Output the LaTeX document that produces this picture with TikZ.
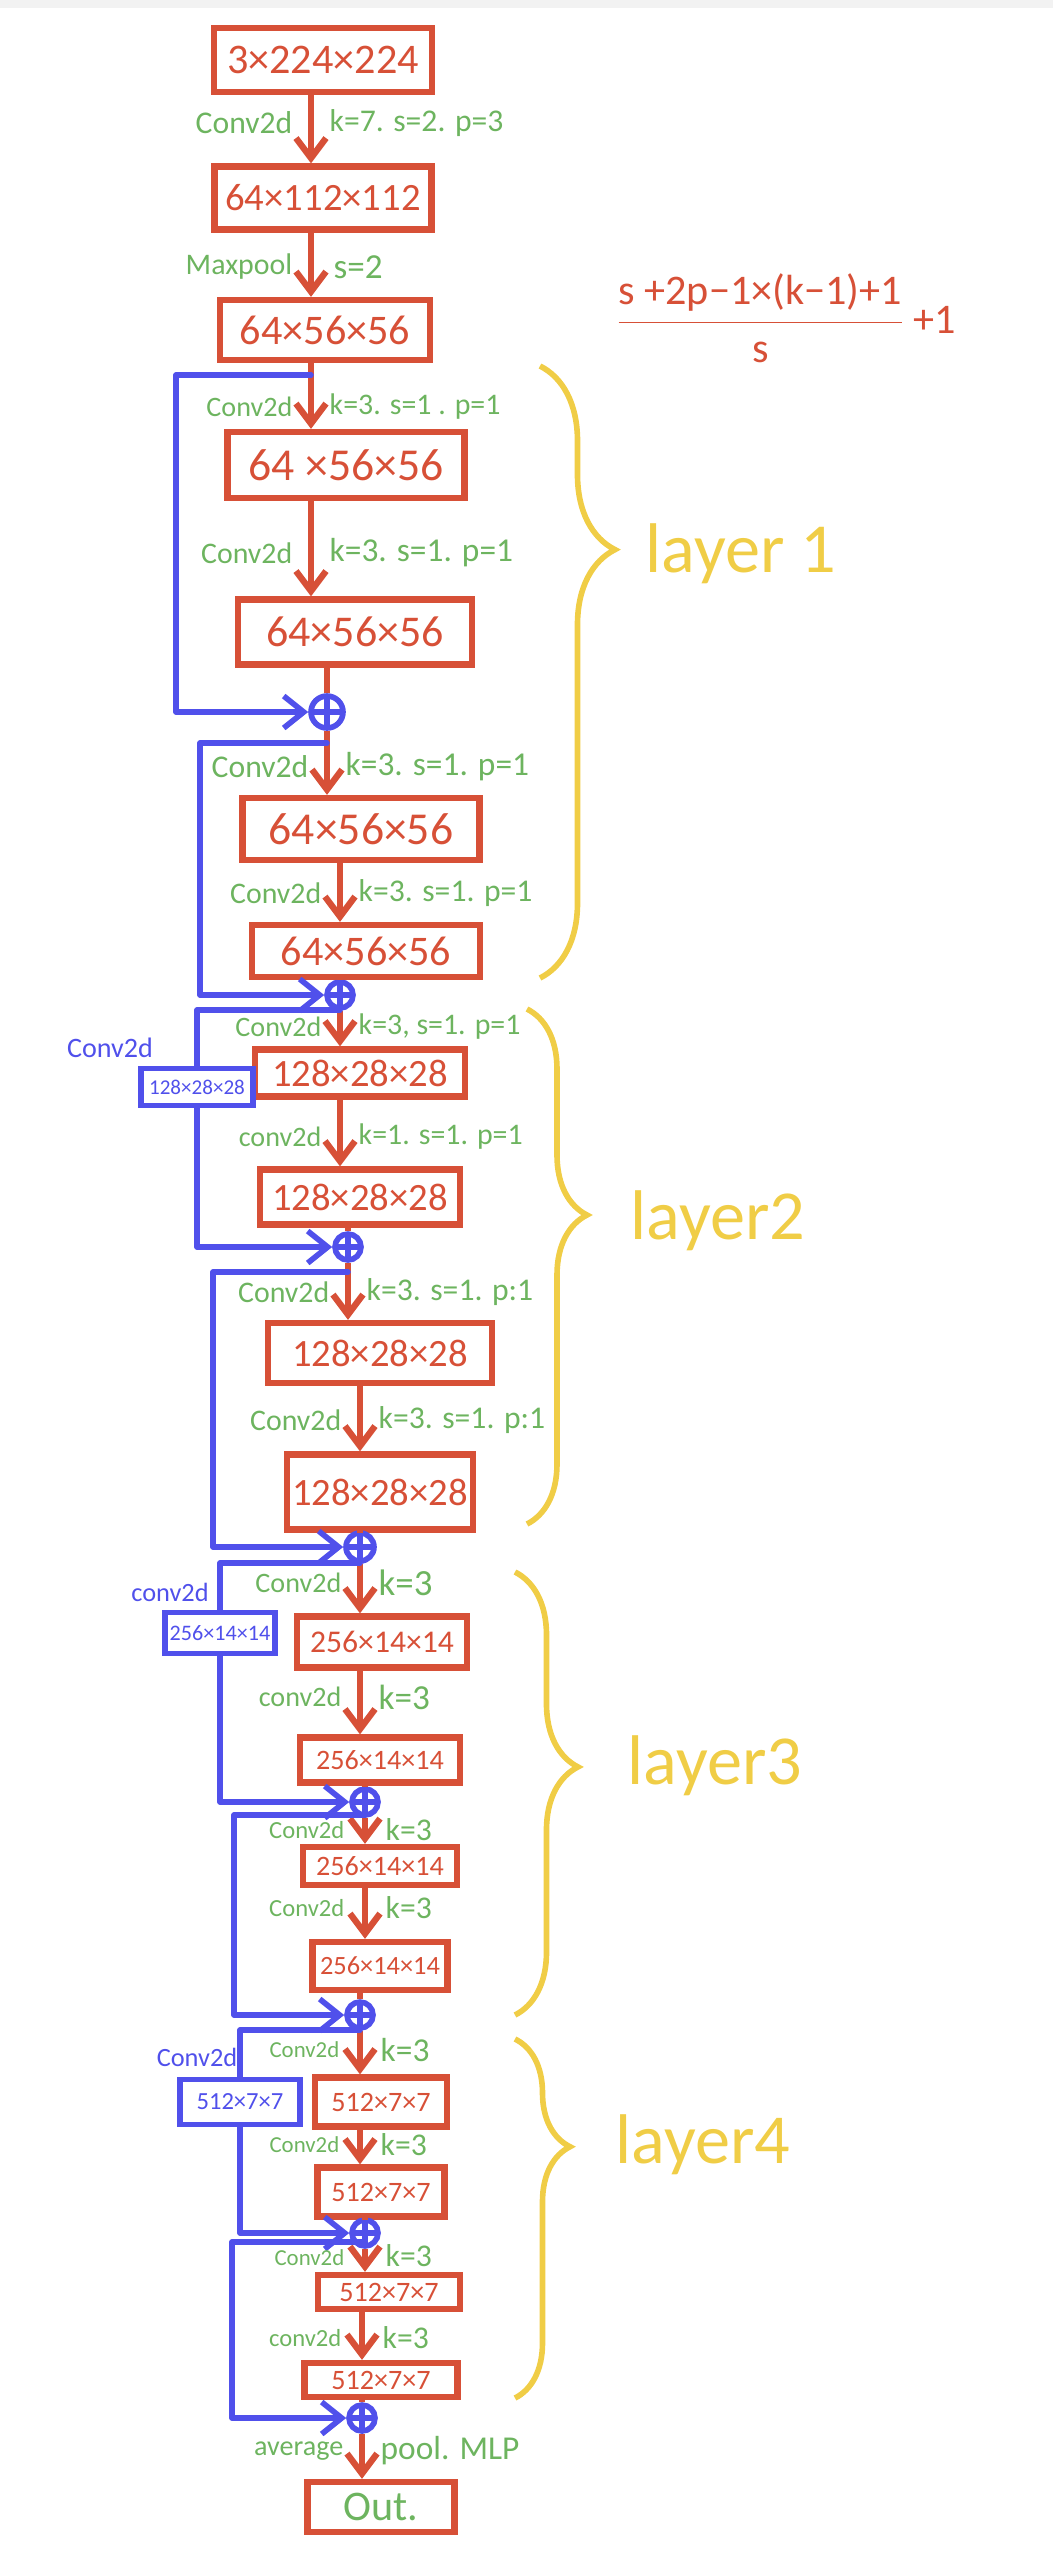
\documentclass[tikz,border=0pt]{standalone}
\usepackage{amsmath}
\usepackage{fontspec}
\setmainfont{Carlito}
\usetikzlibrary{arrows.meta,decorations.pathreplacing}
\definecolor{fmred}{HTML}{D75037}
\definecolor{lgreen}{HTML}{6DB45F}
\definecolor{skipblue}{HTML}{5050EB}
\definecolor{braceyel}{HTML}{F0CD46}
\tikzset{
  fmap/.style={draw=fmred, line width=1.8pt, text=fmred, inner sep=0pt, font=\fontsize{#1}{#1}\selectfont},
  skipmap/.style={draw=skipblue, line width=1.6pt, text=skipblue, inner sep=0pt, font=\fontsize{#1}{#1}\selectfont},
  skiplbl/.style={text=skipblue, inner sep=0pt, font=\fontsize{#1}{#1}\selectfont},
  lblL/.style={text=lgreen, anchor=east, inner sep=0pt, font=\fontsize{#1}{#1}\selectfont},
  lblR/.style={text=lgreen, anchor=west, inner sep=0pt, font=\fontsize{#1}{#1}\selectfont},
  flow/.style={draw=fmred, line width=1.8pt, -{Straight Barb[length=2mm,width=3mm]}},
  flowin/.style={draw=fmred, line width=1.8pt},
  shortcut/.style={draw=skipblue, line width=1.6pt, line join=round, line cap=round},
  shortin/.style={shortcut, -{Straight Barb[length=2mm,width=3.2mm]}},
  addop/.style={circle, draw=skipblue, line width=1.6pt, minimum size=#1, inner sep=0pt,
    path picture={\draw[skipblue, line width=1.6pt] (path picture bounding box.north) -- (path picture bounding box.south)
      (path picture bounding box.west) -- (path picture bounding box.east);}},
  layerbrace/.style 2 args={draw=braceyel, line width=1.6pt, decorate, decoration={brace, amplitude=#1, aspect=#2}},
  layername/.style={text=braceyel, anchor=west, inner sep=0pt, font=\fontsize{20}{20}\selectfont},
}
\begin{document}
\begin{tikzpicture}[x=0.1mm, y=-0.1mm]
\useasboundingbox (0,0) rectangle (1053,2569);
\fill[black!5] (0,0) rectangle (1053,8);

% stem
\node[fmap=12, minimum width=21.8mm, minimum height=6.4mm] (b1) at (323,60) {3×224×224};
\node[fmap=11, minimum width=21.7mm, minimum height=6.3mm] (b2) at (323,198) {64×112×112};
\node[fmap=12, minimum width=21mm, minimum height=6mm] (b3) at (325,330) {64×56×56};
\coordinate (s0) at (311,0);
\draw[flow] (b1.south -| s0) -- (b2.north -| s0);
\draw[flow] (b2.south -| s0) -- (b3.north -| s0);
\node[lblL=9] (l1a) at (293,123) {Conv2d};
\node[lblR=9] (l1b) at (329,123) {k=7. s=2. p=3};
\node[lblL=8.5] (l2a) at (293,267) {Maxpool};
\node[lblR=10] (l2b) at (333,267) {s=2};

% layer 1
\node[fmap=13, minimum width=23.7mm, minimum height=6.6mm] (b4) at (346,465) {64 ×56×56};
\node[fmap=12.5, minimum width=23.4mm, minimum height=6.5mm] (b5) at (355,632) {64×56×56};
\node[addop=3.2mm] (a1) at (327,712) {};
\node[fmap=13, minimum width=23.7mm, minimum height=6.2mm] (b6) at (361,829) {64×56×56};
\node[fmap=12, minimum width=22.8mm, minimum height=5.2mm] (b7) at (366,951) {64×56×56};
\node[addop=2.6mm] (a2) at (340,995) {};
\coordinate (r1) at (311,375);
\coordinate (r2) at (327,743);
\draw[flow] (b3.south -| s0) -- (b4.north -| s0);
\draw[flow] (b4.south -| s0) -- (b5.north -| s0);
\draw[flowin] (b5.south -| a1) -- (a1.north);
\draw[flow] (a1.south) -- (b6.north -| a1);
\draw[flow] (b6.south -| a2) -- (b7.north -| a2);
\draw[flowin] (b7.south -| a2) -- (a2.north);
\draw[shortin] (r1) -- ++(-135,0) |- (a1.west);
\draw[shortin] (r2) -- ++(-127,0) |- (a2.west);
\node[lblL=8] (l3a) at (293,407) {Conv2d};
\node[lblR=8.5] (l3b) at (329,407) {k=3. s=1 . p=1};
\node[lblL=8.5] (l4a) at (293,553) {Conv2d};
\node[lblR=9.5] (l4b) at (329,553) {k=3. s=1. p=1};
\node[lblL=9] (l5a) at (309,767) {Conv2d};
\node[lblR=9.5] (l5b) at (345,767) {k=3. s=1. p=1};
\node[lblL=8.5] (l6a) at (322,893) {Conv2d};
\node[lblR=9] (l6b) at (358,893) {k=3. s=1. p=1};

% layer 2
\node[fmap=11, minimum width=21mm, minimum height=4.7mm] (b8) at (360,1073) {128×28×28};
\node[fmap=11, minimum width=20mm, minimum height=5.5mm] (b9) at (360,1197) {128×28×28};
\node[addop=2.6mm] (a3) at (348,1247) {};
\node[fmap=11, minimum width=22.4mm, minimum height=6mm] (b10) at (380,1353) {128×28×28};
\node[fmap=11, minimum width=18.6mm, minimum height=7.5mm] (b11) at (380,1492) {128×28×28};
\node[addop=2.8mm] (a4) at (360,1547) {};
\node[skipmap=6, minimum width=11.2mm, minimum height=3.7mm] (c1) at (197,1087) {128×28×28};
\node[skiplbl=8] (k1) at (110,1048) {Conv2d};
\coordinate (r3) at (340,1010);
\coordinate (r4) at (348,1272);
\draw[flow] (a2.south) -- (b8.north -| a2);
\draw[flow] (b8.south -| a2) -- (b9.north -| a2);
\draw[flowin] (b9.south -| a3) -- (a3.north);
\draw[flow] (a3.south) -- (b10.north -| a3);
\draw[flow] (b10.south -| a4) -- (b11.north -| a4);
\draw[flowin] (b11.south -| a4) -- (a4.north);
\draw[shortcut] (r3) -| (c1.north);
\draw[shortin] (c1.south) |- (a3.west);
\draw[shortin] (r4) -- ++(-135,0) |- (a4.west);
\node[lblL=8] (l7a) at (322,1027) {Conv2d};
\node[lblR=8.5] (l7b) at (358,1027) {k=3, s=1. p=1};
\node[lblL=8] (l8a) at (322,1137) {conv2d};
\node[lblR=8.5] (l8b) at (358,1137) {k=1. s=1. p=1};
\node[lblL=8.5] (l9a) at (330,1292) {Conv2d};
\node[lblR=9] (l9b) at (366,1292) {k=3. s=1. p:1};
\node[lblL=8.5] (l10a) at (342,1420) {Conv2d};
\node[lblR=9] (l10b) at (378,1420) {k=3. s=1. p:1};

% layer 3
\node[fmap=9, minimum width=17mm, minimum height=5.1mm] (b12) at (382,1642) {256×14×14};
\node[fmap=8, minimum width=16mm, minimum height=4.5mm] (b13) at (380,1760) {256×14×14};
\node[addop=2.6mm] (a5) at (365,1802) {};
\node[fmap=8, minimum width=15.4mm, minimum height=3.8mm] (b14) at (380,1866) {256×14×14};
\node[fmap=7.5, minimum width=13.5mm, minimum height=4.8mm] (b15) at (380,1966) {256×14×14};
\node[addop=2.6mm] (a6) at (360,2015) {};
\node[skipmap=6.3, minimum width=11mm, minimum height=4.1mm] (c2) at (220,1633) {256×14×14};
\node[skiplbl=7.5] (k2) at (170,1592) {conv2d};
\coordinate (r5) at (360,1563);
\coordinate (r6) at (365,1815);
\draw[flow] (a4.south) -- (b12.north -| a4);
\draw[flow] (b12.south -| a4) -- (b13.north -| a4);
\draw[flowin] (b13.south -| a5) -- (a5.north);
\draw[flow] (a5.south) -- (b14.north -| a5);
\draw[flow] (b14.south -| a5) -- (b15.north -| a5);
\draw[flowin] (b15.south -| a6) -- (a6.north);
\draw[shortcut] (r5) -| (c2.north);
\draw[shortin] (c2.south) |- (a5.west);
\draw[shortin] (r6) -- ++(-131,0) |- (a6.west);
\node[lblL=8] (l11a) at (342,1583) {Conv2d};
\node[lblR=10.5] (l11b) at (378,1583) {k=3};
\node[lblL=8] (l12a) at (342,1697) {conv2d};
\node[lblR=10] (l12b) at (378,1697) {k=3};
\node[lblL=7] (l13a) at (345,1830) {Conv2d};
\node[lblR=9] (l13b) at (385,1830) {k=3};
\node[lblL=7] (l14a) at (345,1908) {Conv2d};
\node[lblR=9] (l14b) at (385,1908) {k=3};

% layer 4
\node[fmap=8, minimum width=13.2mm, minimum height=4.9mm] (b16) at (381,2102) {512×7×7};
\node[fmap=8, minimum width=12.7mm, minimum height=4.9mm] (b17) at (381,2192) {512×7×7};
\node[addop=2.6mm] (a7) at (365,2233) {};
\node[fmap=8, minimum width=14.2mm, minimum height=3.4mm] (b18) at (389,2292) {512×7×7};
\node[fmap=8, minimum width=15.3mm, minimum height=3.4mm] (b19) at (381,2380) {512×7×7};
\node[addop=2.6mm] (a8) at (362,2418) {};
\node[skipmap=7, minimum width=12mm, minimum height=4.5mm] (c3) at (240,2102) {512×7×7};
\node[skiplbl=7.5] (k3) at (197,2057) {Conv2d};
\coordinate (r7) at (360,2030);
\coordinate (r8) at (365,2242);
\draw[flow] (a6.south) -- (b16.north -| a6);
\draw[flow] (b16.south -| a6) -- (b17.north -| a6);
\draw[flowin] (b17.south -| a7) -- (a7.north);
\draw[flow] (a7.south) -- (b18.north -| a7);
\draw[flow] (b18.south -| a8) -- (b19.north -| a8);
\draw[flowin] (b19.south -| a8) -- (a8.north);
\draw[shortcut] (r7) -| (c3.north);
\draw[shortin] (c3.south) |- (a7.west);
\draw[shortin] (r8) -- ++(-133,0) |- (a8.west);
\node[lblL=6.5] (l15a) at (340,2050) {Conv2d};
\node[lblR=9.5] (l15b) at (380,2050) {k=3};
\node[lblL=6.5] (l16a) at (340,2145) {Conv2d};
\node[lblR=9] (l16b) at (380,2145) {k=3};
\node[lblL=6.5] (l17a) at (345,2258) {Conv2d};
\node[lblR=9] (l17b) at (385,2256) {k=3};
\node[lblL=7] (l18a) at (342,2338) {conv2d};
\node[lblR=9] (l18b) at (382,2338) {k=3};

% head
\node[fmap=12, text=lgreen, minimum width=14.7mm, minimum height=5mm] (out) at (381,2507) {Out.};
\draw[flow] (a8.south) -- (out.north -| a8);
\node[lblL=8] (l19a) at (344,2451) {average};
\node[lblR=9.5] (l19b) at (380,2451) {pool. MLP};

% layers
\draw[layerbrace={7.5mm}{0.3}] (540,366) -- (540,978);
\draw[layerbrace={6mm}{0.4}] (527,1009) -- (527,1524);
\draw[layerbrace={6.3mm}{0.44}] (515,1572) -- (515,2015);
\draw[layerbrace={5.5mm}{0.3}] (515,2039) -- (515,2398);
\node[layername] (n1) at (645,554) {layer 1};
\node[layername] (n2) at (630,1221) {layer2};
\node[layername] (n3) at (627,1766) {layer3};
\node[layername] (n4) at (615,2145) {layer4};

% output size
\node[text=fmred, font=\fontsize{12}{14}\selectfont] (fm) at (785,318) {$\dfrac{\text{s +2p−1×(k−1)+1}}{\text{s}}$\,+1};
\end{tikzpicture}
\end{document}
